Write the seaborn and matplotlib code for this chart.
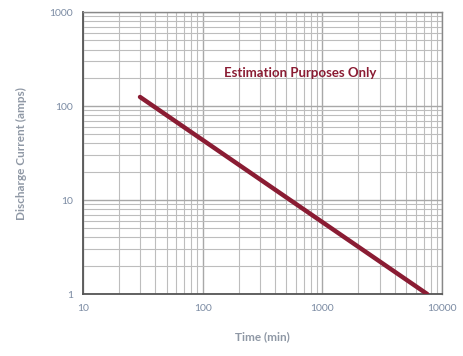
import matplotlib
matplotlib.use("Agg")
import matplotlib.pyplot as plt
import seaborn as sns
import pandas as pd
from matplotlib.ticker import FixedLocator, FixedFormatter, LogLocator, NullFormatter

time_min = [30, 7500]
current_amps = [125, 1.0]
x_ticks = [10, 100, 1000, 10000]
x_labels = ["10", "100", "1000", "10000"]
y_ticks = [1, 10, 100, 1000]
y_labels = ["1", "10", "100", "1000"]
note = "Estimation Purposes Only"

sns.set_style("white")
plt.rcParams['font.family'] = ['Lato', 'DejaVu Sans']

df = pd.DataFrame({"Time (min)": time_min, "Discharge Current (amps)": current_amps})

fig = plt.figure(figsize=(4.63, 3.56), dpi=100)
ax = fig.add_axes([0.179, 0.174, 0.776, 0.792])
sns.lineplot(data=df, x="Time (min)", y="Discharge Current (amps)", ax=ax,
             color="#8a1c33", linewidth=3.2, zorder=3)
ax.set_xscale("log")
ax.set_yscale("log")
ax.set_xlim(10, 10000)
ax.set_ylim(1, 1000)

ax.xaxis.set_major_locator(FixedLocator(x_ticks))
ax.xaxis.set_major_formatter(FixedFormatter(x_labels))
ax.yaxis.set_major_locator(FixedLocator(y_ticks))
ax.yaxis.set_major_formatter(FixedFormatter(y_labels))
ax.xaxis.set_minor_locator(LogLocator(base=10, subs=range(2, 10)))
ax.yaxis.set_minor_locator(LogLocator(base=10, subs=range(2, 10)))
ax.xaxis.set_minor_formatter(NullFormatter())
ax.yaxis.set_minor_formatter(NullFormatter())

ax.grid(True, which="major", color="#a8a8a8", linewidth=1.0)
ax.grid(True, which="minor", color="#bdbdbd", linewidth=0.8)

for s in ["left", "bottom"]:
    ax.spines[s].set_color("#555555")
    ax.spines[s].set_linewidth(1.3)
for s in ["top", "right"]:
    ax.spines[s].set_color("#888888")
    ax.spines[s].set_linewidth(1.0)

ax.tick_params(axis="both", which="major", direction="out", length=4, width=1,
               color="#555555", labelsize=7.5, labelcolor="#7b8ba3", pad=3)
ax.tick_params(axis="both", which="minor", length=0)

ax.set_xlabel("Time (min)", fontsize=8.5, color="#8f98a5", fontweight="bold", labelpad=13)
ax.set_ylabel("Discharge Current (amps)", fontsize=8.5, color="#8f98a5", fontweight="bold", labelpad=16)

ax.text(650, 224, note, ha="center", va="center", fontsize=9.5, fontweight="bold",
        color="#8a1c33", zorder=4)

fig.savefig("out.png", dpi=100)
